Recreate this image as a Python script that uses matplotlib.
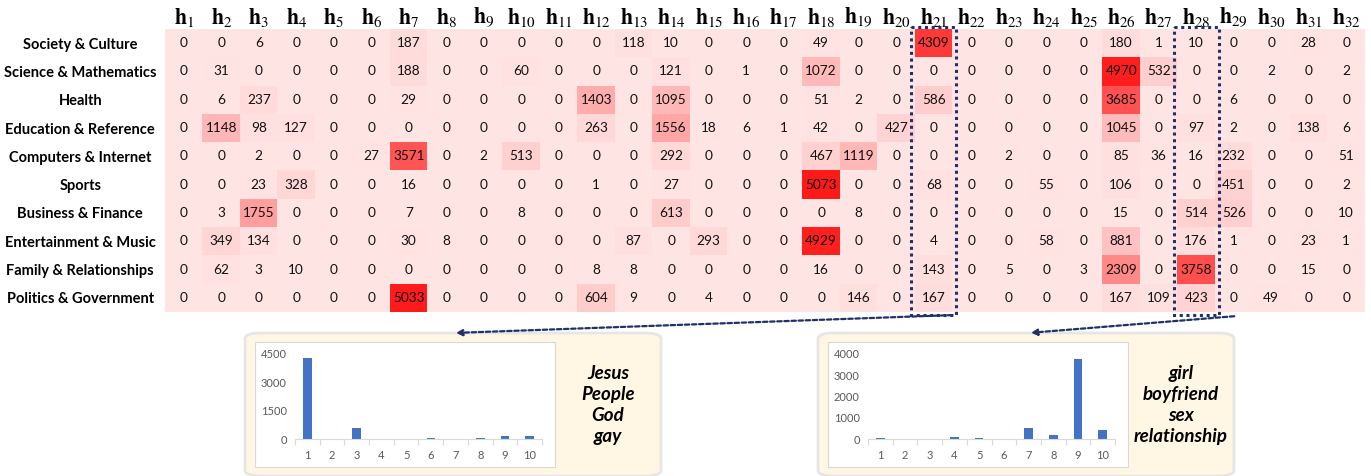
import numpy as np
import matplotlib
matplotlib.use('Agg')
import matplotlib.pyplot as plt
from matplotlib.colors import LinearSegmentedColormap
from matplotlib.patches import Rectangle, FancyBboxPatch

plt.rcParams['font.family'] = ['Lato', 'DejaVu Sans']
plt.rcParams['mathtext.fontset'] = 'stix'

# heatmap data: rows = categories, columns = h1..h32
categories = ['Society & Culture', 'Science & Mathematics', 'Health', 'Education & Reference',
              'Computers & Internet', 'Sports', 'Business & Finance', 'Entertainment & Music',
              'Family & Relationships', 'Politics & Government']
columns = [r'$\mathbf{h}_{%d}$' % i for i in range(1, 33)]

counts = [
    [0, 0, 6, 0, 0, 0, 187, 0, 0, 0, 0, 0, 118, 10, 0, 0, 0, 49, 0, 0, 4309, 0, 0, 0, 0, 180, 1, 10, 0, 0, 28, 0],
    [0, 31, 0, 0, 0, 0, 188, 0, 0, 60, 0, 0, 0, 121, 0, 1, 0, 1072, 0, 0, 0, 0, 0, 0, 0, 4970, 532, 0, 0, 2, 0, 2],
    [0, 6, 237, 0, 0, 0, 29, 0, 0, 0, 0, 1403, 0, 1095, 0, 0, 0, 51, 2, 0, 586, 0, 0, 0, 0, 3685, 0, 0, 6, 0, 0, 0],
    [0, 1148, 98, 127, 0, 0, 0, 0, 0, 0, 0, 263, 0, 1556, 18, 6, 1, 42, 0, 427, 0, 0, 0, 0, 0, 1045, 0, 97, 2, 0, 138, 6],
    [0, 0, 2, 0, 0, 27, 3571, 0, 2, 513, 0, 0, 0, 292, 0, 0, 0, 467, 1119, 0, 0, 0, 2, 0, 0, 85, 36, 16, 232, 0, 0, 51],
    [0, 0, 23, 328, 0, 0, 16, 0, 0, 0, 0, 1, 0, 27, 0, 0, 0, 5073, 0, 0, 68, 0, 0, 55, 0, 106, 0, 0, 451, 0, 0, 2],
    [0, 3, 1755, 0, 0, 0, 7, 0, 0, 8, 0, 0, 0, 613, 0, 0, 0, 0, 8, 0, 0, 0, 0, 0, 0, 15, 0, 514, 526, 0, 0, 10],
    [0, 349, 134, 0, 0, 0, 30, 8, 0, 0, 0, 0, 87, 0, 293, 0, 0, 4929, 0, 0, 4, 0, 0, 58, 0, 881, 0, 176, 1, 0, 23, 1],
    [0, 62, 3, 10, 0, 0, 0, 0, 0, 0, 0, 8, 8, 0, 0, 0, 0, 16, 0, 0, 143, 0, 5, 0, 3, 2309, 0, 3758, 0, 0, 15, 0],
    [0, 0, 0, 0, 0, 0, 5033, 0, 0, 0, 0, 604, 9, 0, 4, 0, 0, 0, 146, 0, 167, 0, 0, 0, 0, 167, 109, 423, 0, 49, 0, 0],
]

# small bar charts (topic distributions)
bar_x = list(range(1, 11))
bars_left = [4309, 0, 586, 0, 0, 68, 0, 55, 143, 167]
bars_right = [50, 0, 0, 97, 40, 0, 514, 176, 3758, 423]
words_left = 'Jesus\nPeople\nGod\ngay'
words_right = 'girl\nboyfriend\nsex\nrelationship'

W, H = 1371, 476
navy = '#1F3168'


def fbox(x0, y0, x1, y1):
    # pixel box (top-left origin) -> figure fraction [l, b, w, h]
    return [x0 / W, 1 - y1 / H, (x1 - x0) / W, (y1 - y0) / H]


fig = plt.figure(figsize=(W / 100, H / 100), dpi=100)

# ---- heatmap
data = np.array(counts)
cmap = LinearSegmentedColormap.from_list('pinks', ['#FFE4E4', '#FF1A1A'])
ax = fig.add_axes(fbox(165, 29, 1365, 312))
ax.imshow(data, cmap=cmap, vmin=0, vmax=data.max(), aspect='auto', interpolation='nearest')
for r in range(data.shape[0]):
    for c in range(data.shape[1]):
        ax.text(c, r, str(data[r, c]), ha='center', va='center', fontsize=9.8, color='#111111')

ax.xaxis.tick_top()
ax.set_xticks(range(len(columns)), columns, fontsize=15.5)
ax.set_yticks(range(len(categories)), categories, fontsize=10.5, fontweight='bold')
ax.tick_params(axis='x', length=0, pad=0)
ax.tick_params(axis='y', length=0, pad=61)
for lab in ax.get_yticklabels():
    lab.set_ha('center')
for s in ax.spines.values():
    s.set_visible(False)

# dotted boxes around h21 and h28
for col in (20, 27):
    ax.add_patch(Rectangle((col - 0.6, -0.56), 1.2, 10.17, fill=False, edgecolor=navy,
                           linewidth=2.2, linestyle=(0, (1, 1.2)), clip_on=False, zorder=5))

# dotted arrows to the insets
for start, end in [((955, 315), (453, 333)), ((1237, 316), (1028, 333))]:
    fig.add_artist(matplotlib.patches.FancyArrowPatch(
        (start[0] / W, 1 - start[1] / H), (end[0] / W, 1 - end[1] / H),
        transform=fig.transFigure, arrowstyle='-|>', mutation_scale=9,
        color=navy, linewidth=1.6, linestyle=(0, (2, 1.2))))


# ---- insets
def inset(px, bars, ymax, yticks, words):
    x0 = px
    panel = FancyBboxPatch((x0 / W, 1 - 476 / H), 416 / W, 143 / H,
                           boxstyle='round,pad=0,rounding_size=0.012',
                           transform=fig.transFigure, facecolor='#FFF7E3',
                           edgecolor='#E6E6E6', linewidth=2, zorder=-2)
    fig.add_artist(panel)
    card = Rectangle(((x0 + 10) / W, 1 - 467 / H), 300 / W, 125 / H,
                     transform=fig.transFigure, facecolor='white',
                     edgecolor='#D9D9D9', linewidth=0.8, zorder=-1)
    fig.add_artist(card)

    bx = fig.add_axes(fbox(x0 + 50, 354, x0 + 297, 439))
    bx.patch.set_alpha(0)
    bx.bar(bar_x, bars, width=0.35, color='#4472C4')
    bx.set_xlim(0.5, 10.5)
    bx.set_ylim(0, ymax)
    bx.set_yticks(yticks)
    bx.set_xticks(bar_x)
    bx.set_xticks(np.arange(0.5, 11, 1), minor=True)
    bx.tick_params(axis='both', labelsize=8, labelcolor='#595959', length=0)
    bx.tick_params(axis='x', which='minor', length=4, color='#D9D9D9', width=0.8)
    bx.tick_params(axis='x', pad=8)
    bx.tick_params(axis='y', pad=6)
    for s in ('top', 'right', 'left'):
        bx.spines[s].set_visible(False)
    bx.spines['bottom'].set_color('#D9D9D9')

    fig.text((x0 + 363) / W, 1 - 405 / H, words, ha='center', va='center',
             fontsize=13.5, fontweight='bold', fontstyle='italic', linespacing=1.3)


inset(245, bars_left, 4500, [0, 1500, 3000, 4500], words_left)
inset(818, bars_right, 4000, [0, 1000, 2000, 3000, 4000], words_right)

fig.savefig('out.png', dpi=100)
